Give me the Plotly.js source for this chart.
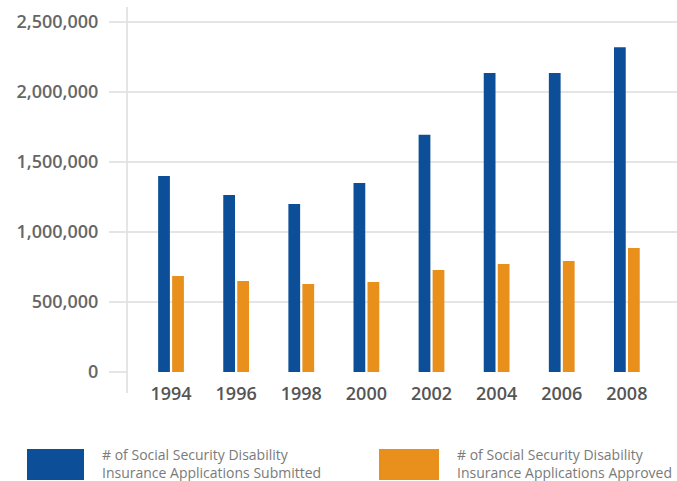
<!DOCTYPE html>
<html>
<head>
<meta charset="utf-8">
<script src="https://cdn.plot.ly/plotly-3.0.1.min.js"></script>
<style>html,body{margin:0;padding:0;background:#fff;}#chart{width:677px;height:481px;}</style>
</head>
<body>
<div id="chart"></div>
<script>
const years = ["1994","1996","1998","2000","2002","2004","2006","2008"];
const submitted = [1400000, 1265000, 1200000, 1350000, 1695000, 2135000, 2135000, 2320000];
const approved = [686000, 650000, 629000, 643000, 729000, 771000, 793000, 886000];
const seriesNames = ["# of Social Security Disability<br>Insurance Applications Submitted",
                     "# of Social Security Disability<br>Insurance Applications Approved"];
const yTicks = [0, 500000, 1000000, 1500000, 2000000, 2500000];
const yTickText = ["0", "500,000", "1,000,000", "1,500,000", "2,000,000", "2,500,000"];
const blue = "#0c4f98";
const orange = "#e8901b";

// pixel helpers for plot area (l=127, r=677, t=7, b=372)
const L = 127, R = 677, T = 7, B = 372;
const px = x => (x - L) / (R - L);
const py = y => (B - y) / (B - T);

const data = [
  {type: "bar", x: years, y: submitted, name: "Submitted", marker: {color: blue}, hoverinfo: "x+y"},
  {type: "bar", x: years, y: approved, name: "Approved", marker: {color: orange}, hoverinfo: "x+y"}
];

const layout = {
  width: 677, height: 481,
  margin: {l: L, r: 677 - R, t: T, b: 481 - B, pad: 0},
  paper_bgcolor: "#fff", plot_bgcolor: "#fff",
  showlegend: false,
  barmode: "group",
  bargap: 0.57,
  bargroupgap: 0.16,
  font: {family: "Open Sans, sans-serif"},
  xaxis: {
    type: "category",
    range: [-0.676, 7.77],
    showgrid: false, zeroline: false, showline: false,
    ticks: "", ticklabelstandoff: 9,
    tickfont: {size: 18, color: "#555555", weight: 600}
  },
  yaxis: {
    range: [0, 2607143],
    tickvals: yTicks, ticktext: yTickText,
    showgrid: true, gridcolor: "#e5e5e5", gridwidth: 1.5,
    zeroline: false, showline: false,
    ticks: "outside", ticklen: 17, tickcolor: "#e5e5e5", tickwidth: 1.5,
    ticklabelstandoff: 7,
    tickfont: {size: 18, color: "#666666", weight: 600}
  },
  shapes: [
    {type: "line", xref: "paper", yref: "paper", x0: 0, x1: 0, y0: py(393), y1: 1,
     line: {color: "#dcdcdc", width: 1.5}},
    {type: "rect", xref: "paper", yref: "paper", x0: px(27), x1: px(84), y0: py(480), y1: py(449),
     fillcolor: blue, line: {width: 0}},
    {type: "rect", xref: "paper", yref: "paper", x0: px(379), x1: px(439), y0: py(480), y1: py(449),
     fillcolor: orange, line: {width: 0}}
  ],
  annotations: [
    {xref: "paper", yref: "paper", x: px(100), y: py(463), xanchor: "left", yanchor: "middle",
     text: seriesNames[0], showarrow: false, align: "left",
     font: {size: 14, color: "#7a7a7a"}},
    {xref: "paper", yref: "paper", x: px(455), y: py(463), xanchor: "left", yanchor: "middle",
     text: seriesNames[1], showarrow: false, align: "left",
     font: {size: 14, color: "#7a7a7a"}}
  ]
};

Plotly.newPlot("chart", data, layout, {displayModeBar: false, staticPlot: true});
</script>
</body>
</html>
